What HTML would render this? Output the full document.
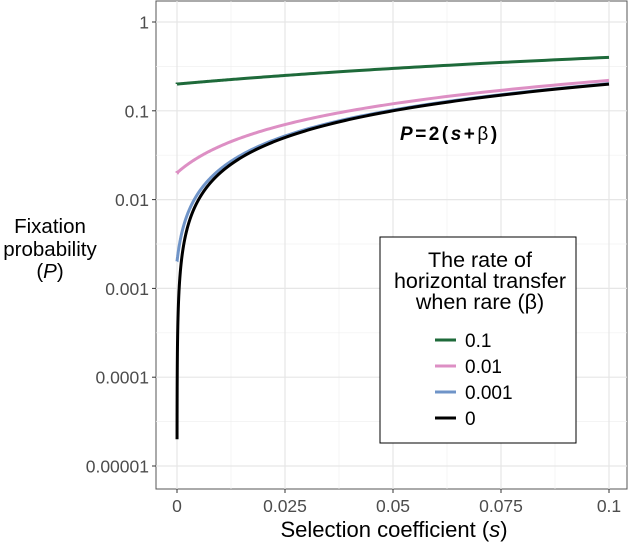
<!DOCTYPE html>
<html><head><meta charset="utf-8"><style>
body{margin:0;background:#fff;}
svg{font-family:"Liberation Sans",sans-serif;}
</style></head><body>
<svg id="chart" width="632" height="548" xmlns="http://www.w3.org/2000/svg">
<rect x="156" y="1" width="471" height="488" fill="#fff" stroke="#555" stroke-width="1"/>
<g id="grid"></g>
<g id="lines"></g>
<g id="axes"></g>
<text x="400" y="140" font-size="19" font-weight="bold" letter-spacing="2.5"><tspan font-style="italic">P</tspan>=2(<tspan font-style="italic">s</tspan>+<tspan font-weight="normal">β</tspan>)</text>
<g font-size="20.5" fill="#000" text-anchor="middle">
<text x="50" y="233">Fixation</text>
<text x="50" y="256">probability</text>
<text x="50" y="278">(<tspan font-style="italic">P</tspan>)</text>
</g>
<text x="394" y="537" font-size="22" text-anchor="middle">Selection coefficient (<tspan font-style="italic">s</tspan>)</text>
<g>
<rect x="380" y="237" width="196" height="206" fill="#fff" stroke="#000" stroke-width="1"/>
<g font-size="21.5" text-anchor="middle">
<text x="480" y="267">The rate of</text>
<text x="480" y="288">horizontal transfer</text>
<text x="480" y="309">when rare (β)</text>
</g>
<g id="legendEntries"></g>
</g>
</svg>
<script>
const betas=[0.1,0.01,0.001,0];
const betaLabels=["0.1","0.01","0.001","0"];
const colors=["#1e6a3a","#dd8fc4","#6f94c8","#000000"];
const xTicks=[0,0.025,0.05,0.075,0.1];
const xTickLabels=["0","0.025","0.05","0.075","0.1"];
const yTicks=[1e-5,1e-4,1e-3,1e-2,1e-1,1];
const yTickLabels=["0.00001","0.0001","0.001","0.01","0.1","1"];
const sMin=1e-5;
const NS="http://www.w3.org/2000/svg";
function xs(v){return 177+v*(609-177)/0.1;}
function ys(v){return 466-(Math.log10(v)+5)*(466-22)/5;}
function mk(t,a,p){const e=document.createElementNS(NS,t);for(const k in a)e.setAttribute(k,a[k]);p.appendChild(e);return e;}
const grid=document.getElementById('grid'),axes=document.getElementById('axes'),lines=document.getElementById('lines');
for(let i=0;i<xTicks.length-1;i++){const x=xs((xTicks[i]+xTicks[i+1])/2);const l=mk('line',{x1:x,x2:x,y1:1,y2:489,stroke:'#f0f0f0','stroke-width':0.7},grid);}
for(let i=0;i<yTicks.length-1;i++){const y=ys(Math.sqrt(yTicks[i]*yTicks[i+1]));const l=mk('line',{x1:156,x2:627,y1:y,y2:y,stroke:'#f0f0f0','stroke-width':0.7},grid);}
xTicks.forEach((v,i)=>{const x=xs(v);
const g=mk('line',{x1:x,x2:x,y1:1,y2:489,stroke:'#e6e6e6','stroke-width':1.2},grid);
const t=mk('line',{x1:x,x2:x,y1:489,y2:493,stroke:'#333'},axes);
const tx=mk('text',{x:x,y:512,'font-size':17.5,'text-anchor':'middle',fill:'#4d4d4d'},axes);tx.textContent=xTickLabels[i];});
yTicks.forEach((v,i)=>{const y=ys(v);
const g=mk('line',{x1:156,x2:627,y1:y,y2:y,stroke:'#e6e6e6','stroke-width':1.2},grid);
const t=mk('line',{x1:152,x2:156,y1:y,y2:y,stroke:'#333'},axes);
const tx=mk('text',{x:149,y:y+6.5,'font-size':17.5,'text-anchor':'end',fill:'#4d4d4d'},axes);tx.textContent=yTickLabels[i];});
betas.forEach((b,i)=>{let d='';const N=400;
for(let k=0;k<=N;k++){const s=sMin*Math.pow(0.1/sMin,k/N);const p=2*(s+b);d+=(k?'L':'M')+xs(s).toFixed(2)+','+ys(p).toFixed(2);}
const p=mk('path',{d:d,fill:'none',stroke:colors[i],'stroke-width':3},lines);
const le=document.getElementById('legendEntries');const y=340+i*26;
const l=mk('line',{x1:435,x2:456,y1:y,y2:y,stroke:colors[i],'stroke-width':3},le);
const t=mk('text',{x:465,y:y+7,'font-size':19},le);t.textContent=betaLabels[i];});
</script>
</body></html>
